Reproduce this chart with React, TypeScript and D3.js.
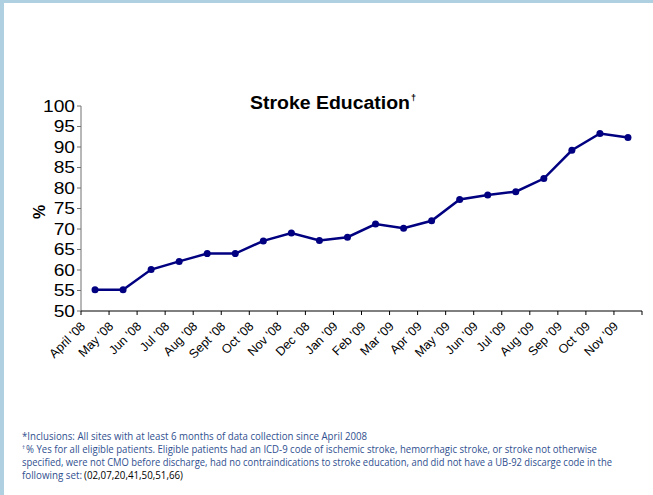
import React from "react";
import * as d3 from "d3";

const categories = [
  "April '08", "May '08", "Jun '08", "Jul '08", "Aug '08", "Sept '08", "Oct '08",
  "Nov '08", "Dec '08", "Jan '09", "Feb '09", "Mar '09", "Apr '09", "May '09",
  "Jun '09", "Jul '09", "Aug '09", "Sep '09", "Oct '09", "Nov '09",
];
const values = [
  55.2, 55.2, 60.1, 62.1, 64.0, 64.0, 67.1, 69.0, 67.2, 68.0, 71.2, 70.2, 72.0,
  77.2, 78.3, 79.1, 82.3, 89.2, 93.3, 92.3,
];
const yTicks = [50, 55, 60, 65, 70, 75, 80, 85, 90, 95, 100];

const W = 653;
const H = 495;
const left = 81;
const right = 642;
const top = 106;
const bottom = 311;

export default function App() {
  const x = d3.scaleBand<string>().domain(categories).range([left, right]).padding(0);
  const y = d3.scaleLinear().domain([50, 100]).range([bottom, top]);
  const line = d3
    .line<number>()
    .x((_, i) => (x(categories[i]) as number) + x.bandwidth() / 2)
    .y((d) => y(d));
  const boundaries = categories.map((c) => x(c) as number).concat([right]);
  const footBlue = "#2f4f8f";
  const footFont = "'Open Sans', 'Noto Sans', sans-serif";

  return (
    <svg
      width={W}
      height={H}
      style={{ position: "absolute", left: 0, top: 0, background: "#fff" }}
      fontFamily="'Liberation Sans', Arial, sans-serif"
    >
      <rect x={0} y={0} width={W} height={H} fill="#fff" />
      <rect x={0} y={0} width={W} height={3} fill="#aed0e1" />
      <rect x={0} y={0} width={4} height={H} fill="#aed0e1" />

      {/* title */}
      <text x={250} y={109} fontSize={18} fontWeight="bold" fill="#000" textLength={160} lengthAdjust="spacingAndGlyphs">
        Stroke Education
      </text>
      <text x={411} y={101} fontSize={9} fontWeight="bold" fill="#000">†</text>

      {/* y axis */}
      <line x1={left} x2={left} y1={top} y2={bottom} stroke="#707070" strokeWidth={1} />
      {yTicks.map((t) => (
        <g key={t}>
          <line x1={left - 4} x2={left} y1={y(t)} y2={y(t)} stroke="#707070" />
          <text
            transform={`translate(75,${y(t)}) scale(1.2,1)`}
            textAnchor="end"
            dy="0.36em"
            fontSize={16}
            fill="#000"
          >
            {t}
          </text>
        </g>
      ))}
      <text
        transform="translate(45,212) rotate(-90)"
        textAnchor="middle"
        fontSize={16}
        fontWeight="bold"
        fill="#000"
      >
        %
      </text>

      {/* x axis */}
      <line x1={left} x2={right} y1={bottom} y2={bottom} stroke="#000" strokeWidth={1} />
      {boundaries.map((b, i) => (
        <line key={i} x1={b} x2={b} y1={bottom} y2={bottom + 4} stroke="#000" />
      ))}
      {categories.map((c) => (
        <text
          key={c}
          transform={`translate(${(x(c) as number) + x.bandwidth() / 2 - 9},${bottom + 16}) rotate(-45)`}
          textAnchor="end"
          fontSize={12.5}
          fill="#000"
        >
          {c}
        </text>
      ))}

      {/* series */}
      <path d={line(values) || ""} fill="none" stroke="#000080" strokeWidth={2.5} />
      {values.map((v, i) => (
        <circle
          key={i}
          cx={(x(categories[i]) as number) + x.bandwidth() / 2}
          cy={y(v)}
          r={3.5}
          fill="#000080"
        />
      ))}

      {/* footnotes */}
      <g fontFamily={footFont} fontSize={10} fill={footBlue}>
        <text x={22} y={439.5} textLength={345} lengthAdjust="spacingAndGlyphs">
          *Inclusions: All sites with at least 6 months of data collection since April 2008
        </text>
        <text x={22} y={449} fontSize={6}>†</text>
        <text x={26} y={452.5} textLength={571} lengthAdjust="spacingAndGlyphs">
          % Yes for all eligible patients. Eligible patients had an ICD-9 code of ischemic stroke, hemorrhagic stroke, or stroke not otherwise
        </text>
        <text x={22} y={465.5} textLength={590} lengthAdjust="spacingAndGlyphs">
          specified, were not CMO before discharge, had no contraindications to stroke education, and did not have a UB-92 discarge code in the
        </text>
        <text x={22} y={478.5} textLength={60} lengthAdjust="spacingAndGlyphs">
          following set:
        </text>
        <text x={84} y={478.5} fill="#000" textLength={99} lengthAdjust="spacingAndGlyphs">
          (02,07,20,41,50,51,66)
        </text>
      </g>
    </svg>
  );
}
